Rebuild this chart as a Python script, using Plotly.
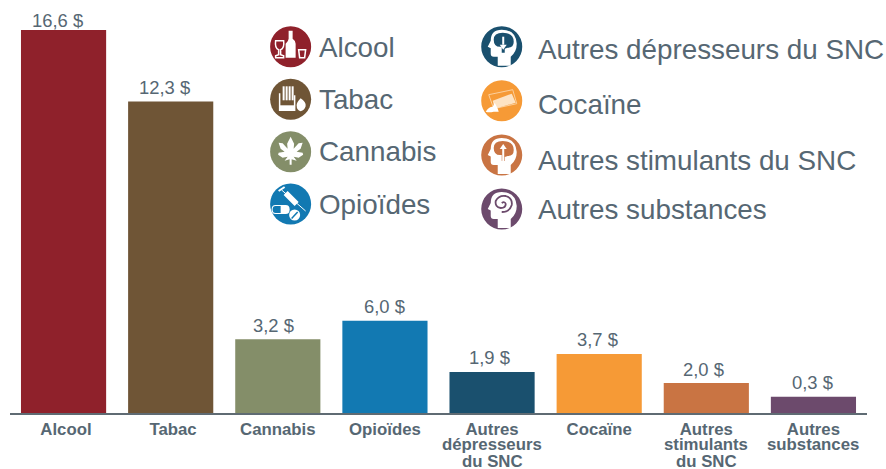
import plotly.graph_objects as go

categories = ["Alcool", "Tabac", "Cannabis", "Opioïdes", "Autres dépresseurs du SNC", "Cocaïne", "Autres stimulants du SNC", "Autres substances"]
# Bar heights as drawn in the picture (not strictly proportional to the printed labels)
bar_heights = [16.6, 13.5, 3.2, 4.0, 1.78, 2.56, 1.3, 0.7]
value_labels = ["16,6 $", "12,3 $", "3,2 $", "6,0 $", "1,9 $", "3,7 $", "2,0 $", "0,3 $"]
colors = ["#8f212b", "#6f5536", "#848e69", "#1279b2", "#1a506e", "#f69a36", "#c97443", "#6c4a6c"]
tick_lines = [["Alcool"], ["Tabac"], ["Cannabis"], ["Opioïdes"], ["Autres", "dépresseurs", "du SNC"], ["Cocaïne"], ["Autres", "stimulants", "du SNC"], ["Autres", "substances"]]
legend_left = ["Alcool", "Tabac", "Cannabis", "Opioïdes"]
legend_right = ["Autres dépresseurs du SNC", "Cocaïne", "Autres stimulants du SNC", "Autres substances"]

W, H = 886, 469
TXT = "#566773"
FONT = "Liberation Sans"
L, R, B = 10, 19.4, 56
label_xshift = [-6.5, -6, -4, 0, -3, -1.5, -2.5, -1]

def py(y): return 1 - y / (H - B)  # paper y; plot area covers 0..H-B, top margin 0
def fx(x): return (x - L) / (W - L - R)

def p(cx, cy, cmds):
    out = []
    for c in cmds:
        if isinstance(c, str):
            out.append(c)
        else:
            out.append(f"{fx(cx + c[0]):.5f},{py(cy + c[1]):.5f}")
    return " ".join(out)

def path(cx, cy, cmds, fill="white", line=None, width=0):
    d = dict(type="path", xref="paper", yref="paper", path=p(cx, cy, cmds), layer="above")
    d["fillcolor"] = fill if fill else "rgba(0,0,0,0)"
    d["line"] = dict(color=line or "rgba(0,0,0,0)", width=width)
    return d

def poly(cx, cy, pts, fill="white"):
    cmds = ["M", pts[0]]
    for q in pts[1:]:
        cmds += ["L", q]
    return path(cx, cy, cmds + ["Z"], fill)

def circle(cx, cy, r, fill, line=None, width=0):
    return dict(type="circle", xref="paper", yref="paper", layer="above",
                x0=fx(cx - r), x1=fx(cx + r), y0=py(cy + r), y1=py(cy - r),
                fillcolor=fill, line=dict(color=line or "rgba(0,0,0,0)", width=width))

def rect(cx, cy, a, b, c, d, fill="white", line=None, width=0):
    return path(cx, cy, ["M", (a, b), "L", (c, b), "L", (c, d), "L", (a, d), "Z"], fill, line, width)

HEAD = ["M", (9, 19), "L", (9, 10), "Q", (15, 5), (15, -3), "Q", (14, -17), (0, -17), "Q", (-11, -17), (-11, -6),
        "L", (-14, 0), "L", (-11, 1.5), "L", (-11, 7), "Q", (-11, 10), (-8, 10), "L", (-4, 10), "L", (-4, 19), "Z"]
BRAIN = ["M", (-8, -7), "Q", (-8, -14), (1, -14), "Q", (12, -14), (12, -5), "Q", (12, 1), (6, 1), "L", (3, 2), "L", (3, 6),
         "L", (0, 6), "L", (0, 0), "Q", (-8, 1), (-8, -7), "Z"]

shapes = []
def alcool(cx, cy, c):
    return [circle(cx, cy, 20.5, c),
        path(cx, cy, ["M", (-2, -16), "L", (2, -16), "L", (2, -8), "Q", (5, -6), (5, -3), "L", (5, 11), "L", (-5, 11), "L", (-5, -3), "Q", (-2, -6), (-2, -8), "Z"]),
        path(cx, cy, ["M", (-15, -6), "L", (-7, -6), "Q", (-6, 2), (-10, 3), "L", (-10, 8), "L", (-7, 9), "L", (-7, 11), "L", (-15, 11), "L", (-15, 9), "L", (-12, 8), "L", (-12, 3), "Q", (-16, 2), (-15, -6), "Z"], c, "white", 1.5),
        path(cx, cy, ["M", (8, 3), "L", (15, 3), "L", (14, 11), "L", (9, 11), "Z"], c, "white", 1.5)]

def tabac(cx, cy, c):
    s = [circle(cx, cy, 20.5, c),
         path(cx, cy, ["M", (-11, -6), "L", (-11, 11), "L", (4, 11), "L", (4, -4)], None, "white", 1.5),
         rect(cx, cy, -11, 6, 4, 11)]
    for dx in (-8, -5, -2, 1):
        s.append(rect(cx, cy, dx, -13, dx + 2, 1))
    s.append(path(cx, cy, ["M", (10, -1), "Q", (16, 3), (15, 7), "Q", (14, 11), (10, 12), "Q", (6, 11), (6, 6), "Q", (6, 3), (10, -1), "Z"]))
    return s

def cannabis(cx, cy, c):
    right = [(3.5, -8), (3, -3), (8, -8.5), (12, -9), (10, -3), (6, 0), (12, 1), (12.5, 3), (8, 6), (3, 5), (6, 9), (1, 7.5), (1, 13)]
    left = [(-a, b) for a, b in reversed(right)]
    return [circle(cx, cy, 20.5, c), poly(cx, cy, [(0, -15)] + right + left)]

def opioides(cx, cy, c):
    return [circle(cx, cy, 20.5, c),
        path(cx, cy, ["M", (-9, -14), "L", (15, 7)], None, "white", 1),
        path(cx, cy, ["M", (-7, -9), "L", (-3, -13), "L", (8, -2), "L", (4, 2), "Z"]),
        path(cx, cy, ["M", (-12, -13), "L", (-6, -17)], None, "white", 2),
        path(cx, cy, ["M", (-15, 1), "L", (-5, 1), "Q", (-1, 1), (-1, 5.5), "Q", (-1, 10), (-5, 10), "L", (-15, 10), "Q", (-19, 10), (-19, 5.5), "Q", (-19, 1), (-15, 1), "Z"]),
        path(cx, cy, ["M", (-10, 2), "L", (-10, 9), "L", (-15, 9), "Q", (-18, 9), (-18, 5.5), "Q", (-18, 2), (-15, 2), "Z"], c),
        circle(cx + 4, cy + 11, 5.5, "white"),
        path(cx, cy, ["M", (1, 14.5), "L", (7, 8)], None, c, 1.5)]

def head_dep(cx, cy, c):
    return [circle(cx, cy, 20.5, c), path(cx, cy, HEAD), path(cx, cy, BRAIN, c),
        rect(cx, cy, 0.5, -10, 2.5, -2),
        path(cx, cy, ["M", (-2, -2), "L", (5, -2), "L", (1.5, 3), "Z"])]

def head_stim(cx, cy, c):
    return [circle(cx, cy, 20.5, c), path(cx, cy, HEAD), path(cx, cy, BRAIN, c),
        rect(cx, cy, 0.5, -6, 2.5, 6),
        path(cx, cy, ["M", (-2, -6), "L", (5, -6), "L", (1.5, -11), "Z"])]

def head_sub(cx, cy, c):
    return [circle(cx, cy, 20.5, c), path(cx, cy, HEAD),
        path(cx, cy, ["M", (0, -6), "Q", (3, -8), (4, -5), "Q", (4, -1), (-1, -1), "Q", (-7, -2), (-6, -8),
                      "Q", (-3, -14), (4, -13), "Q", (11, -11), (10, -4), "Q", (8, 3), (0, 3)], None, c, 1.8)]

def cocaine(cx, cy, c):
    return [circle(cx, cy, 20.5, c),
        path(cx, cy, ["M", (-13, -6), "L", (-8, 8), "L", (15, 3), "L", (11, -11), "Z"], None, "#fbcf9d", 1),
        path(cx, cy, ["M", (-9, 0), "L", (10, -7), "L", (14, 2), "L", (-7, 8), "Z"], "#fde3c4"),
        path(cx, cy, ["M", (-16, 11), "Q", (-13, 6), (-9, 6), "L", (-7, 2), "L", (-4, 8), "L", (-3, 11), "L", (-8, 11), "Q", (-13, 12), (-16, 11), "Z"])]

left_cy = [46.7, 99.3, 151.7, 204]
right_cy = [46.7, 100.7, 155, 209]
shapes += alcool(290.5, left_cy[0], colors[0]) + tabac(290.5, left_cy[1], colors[1])
shapes += cannabis(290.5, left_cy[2], colors[2]) + opioides(290.5, left_cy[3], colors[3])
shapes += head_dep(501.5, right_cy[0], colors[4]) + cocaine(501.5, right_cy[1], colors[5])
shapes += head_stim(501.5, right_cy[2], colors[6]) + head_sub(501.5, right_cy[3], colors[7])

annotations = []
for name, y in zip(legend_left, [47.5, 99.5, 151.5, 204.5]):
    annotations.append(dict(text=name, xref="paper", yref="paper", x=fx(317), y=py(y), xanchor="left", yanchor="middle",
                            showarrow=False, font=dict(size=27.8, color=TXT, family=FONT)))
for name, y in zip(legend_right, [49.5, 104.5, 160.5, 209.5]):
    annotations.append(dict(text=name, xref="paper", yref="paper", x=fx(536), y=py(y), xanchor="left", yanchor="middle",
                            showarrow=False, font=dict(size=27.8, color=TXT, family=FONT)))
# Continuation lines of the category labels, tighter than a single multi-line label allows
for i, lines in enumerate(tick_lines):
    for j, t in enumerate(lines[1:], start=1):
        annotations.append(dict(text=f"<b>{t}</b>", xref="x", yref="paper", x=i, y=py(428 + 17 * j), xanchor="center", yanchor="middle",
                                showarrow=False, font=dict(size=16.8, color=TXT, family=FONT)))
# Value labels just above each bar
for i, (h, t) in enumerate(zip(bar_heights, value_labels)):
    annotations.append(dict(text=t, xref="x", yref="y", x=i, y=h, yshift=10 if i == 0 else 14, xshift=label_xshift[i],
                            xanchor="center", yanchor="middle", showarrow=False,
                            font=dict(size=18.4, color=TXT, family=FONT)))

ticktext = [f"<b>{l[0]}</b>" for l in tick_lines]
ticktext[0] = "\u00a0" + ticktext[0]
ticktext[1] = "\u00a0" + ticktext[1]

fig = go.Figure(go.Bar(
    x=list(range(len(categories))), y=bar_heights, marker=dict(color=colors, line=dict(width=0)),
    width=0.795, hovertext=categories,
))
fig.update_layout(
    width=W, height=H, margin=dict(l=L, r=R, t=0, b=B, autoexpand=False), autosize=False,
    paper_bgcolor="white", plot_bgcolor="white", showlegend=False,
    shapes=shapes, annotations=annotations,
    xaxis=dict(range=[-0.5, 7.5], tickvals=list(range(8)), ticktext=ticktext,
               tickfont=dict(size=16.8, color=TXT, family=FONT), ticks="", showgrid=False, zeroline=False,
               showline=True, linecolor="#5f6b73", linewidth=1.5),
    yaxis=dict(range=[0, 413 / 23.07], visible=False, showgrid=False, zeroline=False),
)
fig.write_html("out.html", config={"displayModeBar": False}, post_script="document.body.style.margin='0';")
